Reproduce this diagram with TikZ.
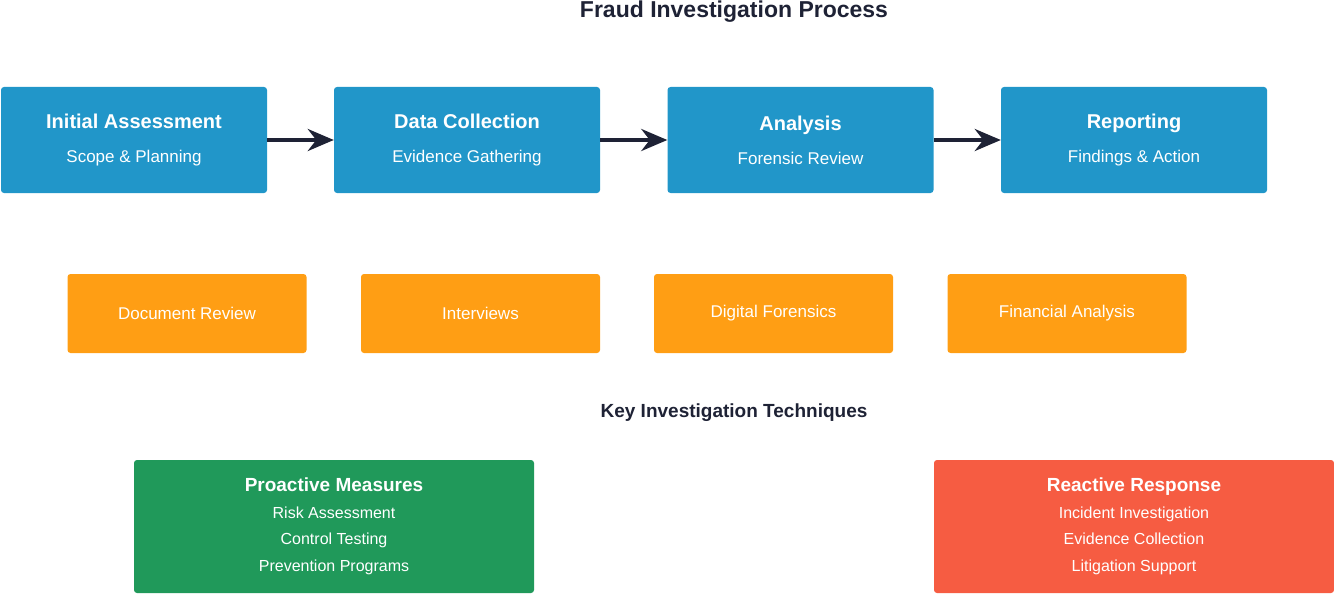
\documentclass[tikz,border=0pt]{standalone}
\usepackage{fontspec}
\setmainfont{Liberation Sans}
\usetikzlibrary{arrows.meta,positioning}
\definecolor{stepblue}{HTML}{2196C9}
\definecolor{techorange}{HTML}{FF9E14}
\definecolor{progreen}{HTML}{20995A}
\definecolor{reacred}{HTML}{F65C42}
\definecolor{inkdark}{HTML}{1E2235}
\begin{document}
\begin{tikzpicture}[x=1pt,y=-1pt,
  phase/.style = {rectangle, rounded corners=3pt, fill=stepblue, text=white,
    minimum width=266pt, minimum height=106pt, align=center, font=\fontsize{17}{34}\selectfont},
  tech/.style = {rectangle, rounded corners=3pt, fill=techorange, text=white,
    minimum width=239pt, minimum height=79pt, font=\fontsize{17}{20}\selectfont},
  group/.style = {rectangle, rounded corners=3pt, text=white,
    minimum width=400pt, minimum height=133pt, align=center, font=\fontsize{16}{26.5}\selectfont},
  heading/.style = {text=inkdark, font=\bfseries\fontsize{19}{22}\selectfont},
  flow/.style = {-{Stealth[length=26pt,width=22pt]}, line width=4pt, draw=inkdark}
  ]
  \useasboundingbox (0,0) rectangle (1334,594);
  \node[heading, font=\bfseries\fontsize{23}{26}\selectfont] (title) at (734,12) {Fraud Investigation Process};
  % process steps
  \node[phase] (assess)  at (134,140) {{\bfseries\fontsize{20}{24}\selectfont Initial Assessment}\\Scope \& Planning};
  \node[phase] (collect) at (467,140) {{\bfseries\fontsize{20}{24}\selectfont Data Collection}\\Evidence Gathering};
  \node[phase] (analyse) at (800.5,140) {{\bfseries\fontsize{20}{24}\selectfont Analysis}\\Forensic Review};
  \node[phase] (report)  at (1134,140) {{\bfseries\fontsize{20}{24}\selectfont Reporting}\\Findings \& Action};
  \draw[flow] (assess) -- (collect);
  \draw[flow] (collect) -- (analyse);
  \draw[flow] (analyse) -- (report);
  % techniques
  \node[tech] (docs)    at (187,313.5) {Document Review};
  \node[tech] (talks)   at (480.5,313.5) {Interviews};
  \node[tech] (digital) at (773.5,313.5) {Digital Forensics};
  \node[tech] (finance) at (1067,313.5) {Financial Analysis};
  \node[heading] (keytech) at (734,413) {Key Investigation Techniques};
  % measures
  \node[group, fill=progreen] (proactive) at (334,526.5)
    {{\bfseries\fontsize{19}{22}\selectfont Proactive Measures}\\Risk Assessment\\Control Testing\\Prevention Programs};
  \node[group, fill=reacred] (reactive) at (1134,526.5)
    {{\bfseries\fontsize{19}{22}\selectfont Reactive Response}\\Incident Investigation\\Evidence Collection\\Litigation Support};
\end{tikzpicture}
\end{document}
